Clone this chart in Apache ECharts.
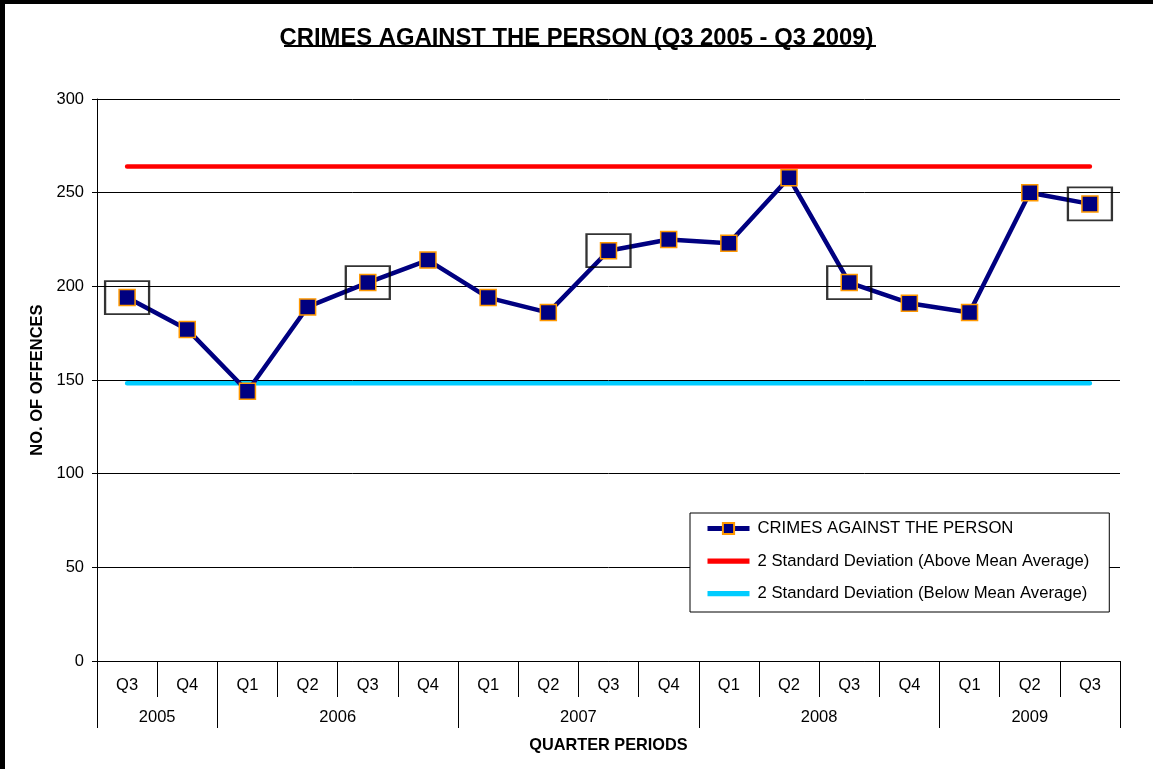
<!DOCTYPE html>
<html>
<head>
<meta charset="utf-8">
<script src="https://cdn.jsdelivr.net/npm/echarts@6/dist/echarts.min.js"></script>
<style>
  html, body { margin: 0; padding: 0; background: #fff; }
  #main { width: 1153px; height: 769px; }
</style>
</head>
<body>
<div id="main"></div>
<script>
// quarters along the x axis
var quarters = ['Q3', 'Q4', 'Q1', 'Q2', 'Q3', 'Q4', 'Q1', 'Q2', 'Q3', 'Q4', 'Q1', 'Q2', 'Q3', 'Q4', 'Q1', 'Q2', 'Q3'];
// year groups: label, first quarter index, end index
var years = ['2005', '2006', '2007', '2008', '2009'];
var yearStart = [0, 2, 6, 10, 14];
var yearEnd = [2, 6, 10, 14, 17];

var offences = [194, 177, 144, 189, 202, 214, 194, 186, 219, 225, 223, 258, 202, 191, 186, 250, 244];
var upperSD = 264;
var lowerSD = 148.2;
// Q3 points that get a box round them
var boxedIndex = [0, 4, 8, 12, 16];

var yTicks = [0, 50, 100, 150, 200, 250, 300];

var upperLine = quarters.map(function () { return upperSD; });
var lowerLine = quarters.map(function () { return lowerSD; });
var boxed = boxedIndex.map(function (i) { return [i, offences[i]]; });

// year labels sit in the middle of each group (half-band units)
var yearLabelPos = {};
years.forEach(function (y, i) { yearLabelPos[yearStart[i] + yearEnd[i]] = y; });

var font = 'Arial, "Liberation Sans", sans-serif';
var barIcon = 'path://M0,0 L40,0 L40,5 L0,5 Z';

var chart = echarts.init(document.getElementById('main'), null, { renderer: 'canvas' });

chart.setOption({
  backgroundColor: '#fff',
  animation: false,
  title: {
    text: 'CRIMES AGAINST THE PERSON (Q3 2005 - Q3 2009)',
    left: 'center',
    top: 21,
    textStyle: { fontFamily: font, fontSize: 23.8, fontWeight: 'bold', color: '#000' }
  },
  graphic: [
    // frame edges
    { type: 'rect', left: 0, top: 0, shape: { width: 5, height: 769 }, style: { fill: '#000' } },
    { type: 'rect', left: 0, top: 0, shape: { width: 1153, height: 4 }, style: { fill: '#000' } },
    // title underline
    { type: 'line', shape: { x1: 284, y1: 46, x2: 876, y2: 46 }, style: { stroke: '#000', lineWidth: 2 } }
  ],
  legend: {
    orient: 'vertical',
    left: 690,
    top: 513,
    padding: [7, 20, 10, 15],
    itemGap: 15.5,
    itemWidth: 42,
    itemHeight: 14,
    borderColor: '#000',
    borderWidth: 1,
    backgroundColor: '#fff',
    lineStyle: { width: 5 },
    textStyle: { fontFamily: font, fontSize: 16.7, color: '#000', padding: [0, 0, 0, 3] },
    data: [
      { name: 'CRIMES AGAINST THE PERSON' },
      { name: '2 Standard Deviation (Above Mean Average)', icon: barIcon },
      { name: '2 Standard Deviation (Below Mean Average)', icon: barIcon }
    ]
  },
  grid: { left: 97, right: 33, top: 99, bottom: 108 },
  xAxis: [
    {
      type: 'category',
      data: quarters,
      boundaryGap: true,
      axisLine: { show: true, lineStyle: { color: '#000', width: 1 } },
      axisTick: { show: true, interval: 0, length: 36, lineStyle: { color: '#000' } },
      axisLabel: { interval: 0, margin: 16, fontFamily: font, fontSize: 16.5, color: '#000' },
      splitLine: { show: false }
    },
    {
      type: 'category',
      data: quarters,
      boundaryGap: true,
      position: 'bottom',
      axisLine: { show: false },
      axisTick: {
        show: true,
        length: 67,
        lineStyle: { color: '#000' },
        interval: function (index) { return yearStart.indexOf(index) >= 0; }
      },
      axisLabel: { show: false },
      splitLine: { show: false }
    },
    {
      type: 'value',
      min: 0,
      max: quarters.length * 2,
      interval: 1,
      position: 'bottom',
      axisLine: { show: false },
      axisTick: { show: false },
      splitLine: { show: false },
      axisLabel: {
        margin: 48,
        fontFamily: font,
        fontSize: 16.5,
        color: '#000',
        formatter: function (v) { return yearLabelPos[v] || ''; }
      },
      name: 'QUARTER PERIODS',
      nameLocation: 'middle',
      nameGap: 77,
      nameTextStyle: { fontFamily: font, fontSize: 16.3, fontWeight: 'bold', color: '#000' }
    }
  ],
  yAxis: {
    type: 'value',
    min: yTicks[0],
    max: yTicks[yTicks.length - 1],
    interval: 50,
    name: 'NO. OF OFFENCES',
    nameLocation: 'middle',
    nameGap: 49,
    nameTextStyle: { fontFamily: font, fontSize: 16.5, fontWeight: 'bold', color: '#000' },
    axisLine: { show: true, lineStyle: { color: '#000', width: 1 } },
    axisTick: { show: true, length: 5, lineStyle: { color: '#000' } },
    axisLabel: { margin: 13, fontFamily: font, fontSize: 16.5, color: '#000' },
    splitLine: { show: true, lineStyle: { color: '#000', width: 1 } }
  },
  series: [
    {
      name: '2 Standard Deviation (Above Mean Average)',
      type: 'line',
      data: upperLine,
      symbol: 'none',
      lineStyle: { color: '#FF0000', width: 4.5, cap: 'round' },
      itemStyle: { color: '#FF0000' },
      z: 2
    },
    {
      name: '2 Standard Deviation (Below Mean Average)',
      type: 'line',
      data: lowerLine,
      symbol: 'none',
      lineStyle: { color: '#00CCFF', width: 4.5, cap: 'round' },
      itemStyle: { color: '#00CCFF' },
      z: 2
    },
    {
      name: 'CRIMES AGAINST THE PERSON',
      type: 'line',
      data: offences,
      symbol: 'rect',
      symbolSize: 16,
      lineStyle: { color: '#000080', width: 4.5 },
      itemStyle: { color: '#000080', borderColor: '#FF9900', borderWidth: 1.5 },
      z: 3
    },
    {
      name: 'boxes',
      type: 'scatter',
      data: boxed,
      symbol: 'rect',
      symbolSize: [44, 33],
      itemStyle: { color: 'rgba(0,0,0,0)', borderColor: '#000', borderWidth: 2 },
      silent: true,
      z: 4
    }
  ]
});
</script>
</body>
</html>
